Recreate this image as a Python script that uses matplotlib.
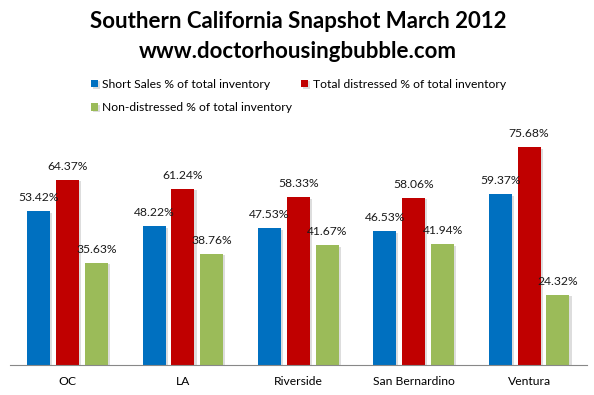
#
# Imports
#
from matplotlib import pyplot as plt
from matplotlib import patheffects as pe
import numpy as np

#
# Data
#
regions = ['OC', 'LA', 'Riverside', 'San Bernardino', 'Ventura']
short_sales = [53.42, 48.22, 47.53, 46.53, 59.37]
distressed = [64.37, 61.24, 58.33, 58.06, 75.68]
non_distressed = [35.63, 38.76, 41.67, 41.94, 24.32]
series_names = ['Short Sales % of total inventory',
                'Total distressed % of total inventory',
                'Non-distressed % of total inventory']
colors = ['#0070C0', '#C00000', '#9BBB59']

plt.rcParams['font.family'] = ['Lato', 'DejaVu Sans']

#
# main
#
if __name__ == "__main__":
    fig = plt.figure(figsize=(5.94, 3.95), dpi=100)
    ax = fig.add_axes([9.8 / 594, 30 / 395, 577 / 594, 230 / 395])

    x = np.arange(len(regions))
    width = 0.2
    step = 0.25
    shadow = [pe.SimplePatchShadow(offset=(1.5, -1), shadow_rgbFace='#aaaaaa', alpha=0.4), pe.Normal()]
    handles = []
    for i, vals in enumerate([short_sales, distressed, non_distressed]):
        bars = ax.bar(x + (i - 1) * step, vals, width, color=colors[i],
                      label=series_names[i], path_effects=shadow)
        handles.append(bars)
        for b, v in zip(bars, vals):
            ax.text(b.get_x() + b.get_width() / 2, v + 2.8, '%.2f%%' % v,
                    ha='center', va='bottom', fontsize=8.7, color='#1a1a1a')

    ax.set_xlim(-0.5, len(regions) - 0.5)
    ax.set_ylim(0, 80)
    ax.set_xticks(x)
    ax.set_xticklabels(regions, fontsize=8.7)
    ax.tick_params(axis='x', length=0, pad=8)
    ax.set_yticks([])
    for s in ['top', 'right', 'left']:
        ax.spines[s].set_visible(False)
    ax.spines['bottom'].set_color('#888888')

    fig.text(298 / 594, 1 - 22 / 395, 'Southern California Snapshot March 2012',
             ha='center', va='center', fontsize=16, fontweight='bold')
    fig.text(298 / 594, 1 - 52 / 395, 'www.doctorhousingbubble.com',
             ha='center', va='center', fontsize=16, fontweight='bold')

    # column-wise fill: short + non in column 1, distressed in column 2
    order = [0, 2, 1]
    fig.legend(handles=[handles[k] for k in order], loc='upper left', ncol=2,
               bbox_to_anchor=(91 / 594, 1 - 79 / 395), frameon=False,
               fontsize=8.7, handlelength=0.58, handleheight=0.58,
               handletextpad=0.35, columnspacing=0.75, labelspacing=1.03,
               borderaxespad=0, borderpad=0)

    fig.savefig('out.png', dpi=100)
